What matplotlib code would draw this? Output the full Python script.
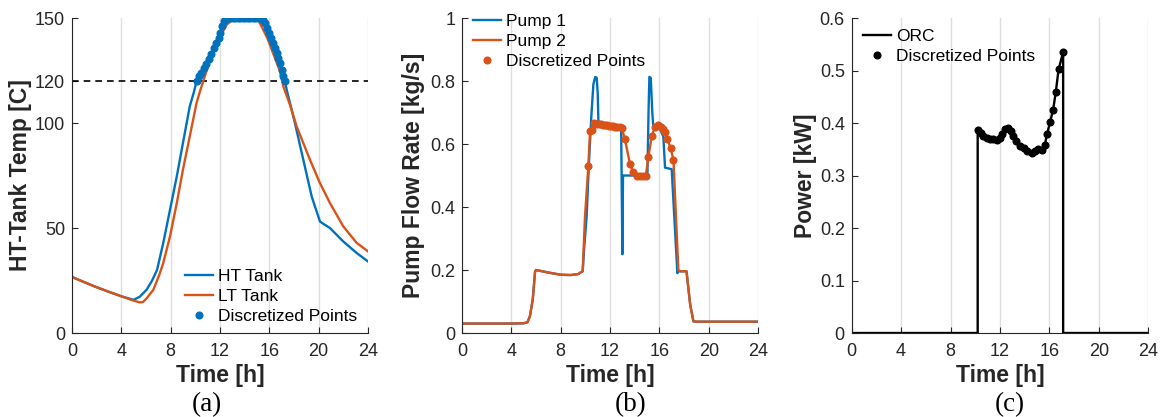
import matplotlib
matplotlib.use('Agg')
import matplotlib.pyplot as plt

blue = '#0072BD'
orange = '#D95319'
ink = '#262626'

plt.rcParams['font.family'] = 'Liberation Sans'
plt.rcParams['font.size'] = 12

# (a) tank temperatures
ht_pre_t = [0, 1, 2, 3, 4, 5.0, 5.5, 6.05, 6.5, 6.9, 7.4, 7.95, 8.5, 9.0, 9.55, 9.9]
ht_pre_T = [26.7, 24.2, 21.8, 19.6, 17.5, 15.8, 17.3, 20.6, 25.0, 30.1, 42.8, 58.7, 74.6, 90.5, 107.9, 115.0]
ht_dot_t = [10.1, 10.3, 10.5, 10.7, 10.9, 11.1, 11.3, 11.5, 11.7, 11.9, 12.0, 12.15, 12.3, 12.45,
            12.65, 12.85, 13.05, 13.25, 13.45, 13.65, 13.85, 14.05, 14.25, 14.45, 14.65, 14.85, 15.05, 15.25, 15.4,
            15.52, 15.65, 15.84, 16.0, 16.1, 16.33, 16.46, 16.6, 16.73, 16.87, 17.0, 17.14, 17.27]
ht_dot_T = [120, 122.2, 123.8, 126.2, 128.1, 130.5, 132.8, 135.7, 138.1, 140.5, 142.9, 146.0, 148.4, 150,
            150, 150, 150, 150, 150, 150, 150, 150, 150, 150, 150, 150, 150, 150, 150,
            149.2, 147.6, 145.2, 142.9, 140.5, 138.1, 135.7, 133.3, 130.9, 128.5, 125.4, 122.2, 120.1]
ht_post_t = [17.41, 18.08, 18.76, 19.44, 20.11, 20.38, 20.92, 22.0, 23.09, 24]
ht_post_T = [115.9, 100.0, 82.5, 65.0, 53.1, 52.0, 50.0, 43.6, 38.1, 34.1]

lt_t = [0, 1, 2, 3, 4, 5, 5.5, 5.75, 6.05, 6.6, 7.1, 7.4, 7.95, 8.5, 9.0, 9.55, 10.1, 10.35, 10.65,
        11.33, 11.95, 12.55, 13.22, 15.03, 15.84, 16.87, 17.14, 17.68, 18.22, 19.3, 20.11, 20.92, 22.0, 23.09, 24]
lt_T = [26.7, 24.2, 21.8, 19.6, 17.5, 15.4, 14.6, 14.7, 16.5, 20.6, 28.0, 33.3, 46.0, 61.9, 77.8, 93.6, 109.5, 114.5, 120.0,
        132.5, 140.5, 146.9, 150, 150, 140.5, 124.6, 117.4, 108.7, 98.4, 82.5, 71.4, 61.9, 50.8, 42.9, 38.9]

# (b) pump flow rates
p1_t = [0, 2, 4, 5.0, 5.3, 5.5, 5.73, 5.92, 6.0, 7.0, 8.0, 8.8, 9.4, 9.78, 9.9, 10.1, 10.3, 10.5, 10.65,
        10.8, 10.92, 11.0, 11.06, 12.0, 12.9, 13.0, 13.05, 15.03, 15.12, 15.19, 15.3, 15.43, 15.5, 15.9,
        16.32, 16.46, 17.0, 17.46, 17.54, 18.2, 18.5, 18.76, 19.0, 24]
p1_y = [0.03, 0.03, 0.03, 0.031, 0.034, 0.053, 0.106, 0.195, 0.2, 0.192, 0.185, 0.184, 0.187, 0.196, 0.27, 0.37, 0.55, 0.70, 0.79,
        0.813, 0.81, 0.76, 0.665, 0.659, 0.652, 0.25, 0.5, 0.5, 0.70, 0.813, 0.81, 0.698, 0.66, 0.66,
        0.624, 0.525, 0.52, 0.19, 0.196, 0.196, 0.09, 0.037, 0.036, 0.036]
p2_pre_t = [0, 2, 4, 5.0, 5.3, 5.5, 5.73, 5.92, 6.0, 7.0, 8.0, 8.8, 9.4, 9.78, 9.97]
p2_pre_y = [0.03, 0.03, 0.03, 0.031, 0.034, 0.053, 0.106, 0.195, 0.2, 0.192, 0.185, 0.184, 0.187, 0.196, 0.37]
p2_dot_t = [10.24, 10.38, 10.5, 10.72, 10.9, 11.07, 11.24, 11.41, 11.58, 11.75, 11.92, 12.09, 12.26, 12.43, 12.6,
            12.77, 12.95, 13.2, 13.62, 13.9, 14.15, 14.4, 14.65, 14.9, 15.11, 15.38, 15.65, 15.92, 16.1, 16.3,
            16.46, 16.65, 16.92, 17.14]
p2_dot_y = [0.53, 0.640, 0.645, 0.666, 0.665, 0.663, 0.662, 0.661, 0.660, 0.659, 0.658, 0.657, 0.656, 0.655, 0.654,
            0.653, 0.650, 0.616, 0.536, 0.510, 0.500, 0.498, 0.498, 0.498, 0.560, 0.625, 0.655, 0.659, 0.655, 0.648,
            0.638, 0.616, 0.586, 0.550]
p2_post_t = [17.54, 17.7, 18.2, 18.5, 18.76, 19.0, 24]
p2_post_y = [0.2, 0.196, 0.196, 0.09, 0.037, 0.036, 0.036]

# (c) ORC power
orc_dot_t = [10.2, 10.45, 10.65, 10.92, 11.19, 11.46, 11.75, 12.0, 12.2, 12.4, 12.62, 12.86, 13.07, 13.3,
             13.62, 13.94, 14.21, 14.56, 14.83, 15.1, 15.37, 15.64, 15.83, 16.05, 16.31, 16.53, 16.75, 17.12]
orc_dot_P = [0.387, 0.381, 0.376, 0.371, 0.370, 0.369, 0.368, 0.371, 0.380, 0.389, 0.391, 0.384, 0.375, 0.366,
             0.357, 0.352, 0.346, 0.342, 0.346, 0.350, 0.349, 0.359, 0.380, 0.401, 0.425, 0.460, 0.502, 0.535]

time_ticks = [0, 4, 8, 12, 16, 20, 24]


def style(ax, ylim, yticks, ylabels, ylabel, ylab_x):
    ax.set_xlim(0, 24)
    ax.set_ylim(*ylim)
    ax.set_xticks(time_ticks)
    ax.set_yticks(yticks)
    ax.set_yticklabels(ylabels)
    for s in ['top', 'right']:
        ax.spines[s].set_visible(False)
    for s in ['left', 'bottom']:
        ax.spines[s].set_color(ink)
    ax.tick_params(direction='in', length=4, colors=ink, labelsize=13, pad=5)
    ax.tick_params(axis='x', pad=7)
    ax.grid(axis='x', color='#dedede', lw=1)
    ax.set_axisbelow(True)
    ax.set_xlabel('Time [h]', fontsize=16.5, fontweight='bold', color=ink)
    ax.set_ylabel(ylabel, fontsize=16.5, fontweight='bold', color=ink)
    ax.xaxis.set_label_coords(0.5, -0.098)
    ax.yaxis.set_label_coords(ylab_x, 0.5)


fig = plt.figure(figsize=(11.61, 4.17), dpi=100)
ax1 = fig.add_axes([0.062, 0.2014, 0.2549, 0.7554])
ax2 = fig.add_axes([0.398, 0.2014, 0.2549, 0.7554])
ax3 = fig.add_axes([0.7336, 0.2014, 0.2553, 0.7554])

leg_kw = dict(frameon=False, fontsize=12.5, handlelength=1.6, handletextpad=0.3,
              labelspacing=0.28, borderpad=0, borderaxespad=0, loc='upper left')

# panel (a)
ax1.axhline(120, color='black', ls='--', lw=1.2, dashes=(4, 3))
ax1.plot(ht_pre_t + ht_dot_t + ht_post_t, ht_pre_T + ht_dot_T + ht_post_T, color=blue, lw=1.7, label='HT Tank')
ax1.plot(lt_t, lt_T, color=orange, lw=1.7, label='LT Tank')
ax1.plot(ht_dot_t, ht_dot_T, 'o', color=blue, ms=4.8, label='Discretized Points')
style(ax1, (0, 150), [0, 50, 100, 120, 150], ['0', '50', '100', '120', '150'], 'HT-Tank Temp [C]', -0.135)
ax1.legend(bbox_to_anchor=(0.382, 0.203), **leg_kw)

# panel (b)
ax2.plot(p1_t, p1_y, color=blue, lw=1.7, label='Pump 1')
ax2.plot(p2_pre_t + p2_dot_t + p2_post_t, p2_pre_y + p2_dot_y + p2_post_y, color=orange, lw=1.7, label='Pump 2')
ax2.plot(p2_dot_t, p2_dot_y, 'o', color=orange, ms=4.8, label='Discretized Points')
style(ax2, (0, 1), [0, 0.2, 0.4, 0.6, 0.8, 1], ['0', '0.2', '0.4', '0.6', '0.8', '1'], 'Pump Flow Rate [kg/s]', -0.125)
ax2.legend(bbox_to_anchor=(0.036, 1.012), **leg_kw)

# panel (c)
ax3.plot([0, orc_dot_t[0]] + orc_dot_t + [orc_dot_t[-1], 24], [0, 0] + orc_dot_P + [0, 0],
         color='black', lw=1.7, label='ORC')
ax3.plot(orc_dot_t, orc_dot_P, 'o', color='black', ms=4.8, label='Discretized Points')
style(ax3, (0, 0.6), [0, 0.1, 0.2, 0.3, 0.4, 0.5, 0.6], ['0', '0.1', '0.2', '0.3', '0.4', '0.5', '0.6'],
      'Power [kW]', -0.117)
ax3.legend(bbox_to_anchor=(0.039, 0.966), **leg_kw)

for x, s in [(207, '(a)'), (631, '(b)'), (1010, '(c)')]:
    fig.text(x / 1161, 1 - 405 / 417, s, ha='center', va='center', family='Liberation Serif', fontsize=19.5)

fig.savefig('out.png', dpi=100)
